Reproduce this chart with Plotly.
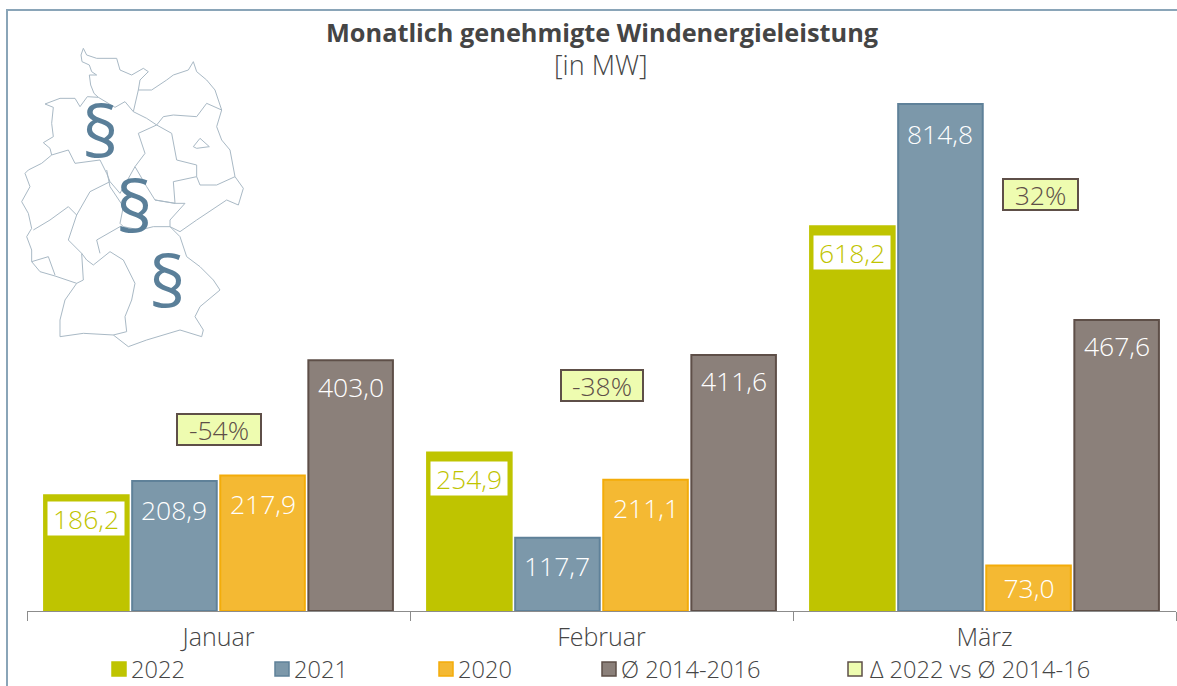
import plotly.graph_objects as go

W, H = 1177, 686
ML, MR, MT, MB = 27, 1, 51, 75

months = ["Januar", "Februar", "März"]
series_names = ["2022", "2021", "2020", "Ø 2014-2016"]
v2022 = [186.2, 254.9, 618.2]
v2021 = [208.9, 117.7, 814.8]
v2020 = [217.9, 211.1, 73.0]
vavg = [403.0, 411.6, 467.6]
delta_labels = ["-54%", "-38%", "32%"]
delta_heights = [291, 362, 669]
legend_delta = "Δ 2022 vs Ø 2014-16"

fills = ["#bfc400", "#7c98aa", "#f4b933", "#8b807a"]
borders = ["#bfc400", "#5f8199", "#f3ac0a", "#5e4f48"]
FONT = "Open Sans"
TXT = "#454545"
LIGHT = 300
SZ_LABEL = 26.5
SZ_TICK = 25
SZ_LEG = 23.6

def fmt(v):
    return f"{v:.1f}".replace(".", ",")

def px(x):
    return (x - ML) / (W - ML - MR)

def py(y):
    return 1 - (y - MT) / (H - MT - MB)

fig = go.Figure()
all_vals = [v2022, v2021, v2020, vavg]
for name, vals, f, b in zip(series_names, all_vals, fills, borders):
    fig.add_trace(go.Bar(name=name, x=months, y=vals, marker=dict(color=f, line=dict(color=b, width=2)),
                         showlegend=False, hoverinfo="skip"))

annotations = []
shapes = []
pitch = 88.3
offs = [-1.5, -0.5, 0.5, 1.5]
label_drop = [[23, 28, 28, 26], [26, 28, 28, 26], [26, 29, 22, 25]]
for si, vals in enumerate(all_vals):
    for mi, v in enumerate(vals):
        first = si == 0
        annotations.append(dict(x=months[mi], y=v, xref="x", yref="y", text=fmt(v), showarrow=False,
                                xshift=offs[si] * pitch, yshift=-label_drop[mi][si], width=76, height=33,
                                align="center", valign="middle",
                                font=dict(family=FONT, size=SZ_LABEL, weight=LIGHT, color=fills[0] if first else "white"),
                                bgcolor="white" if first else "rgba(0,0,0,0)", borderpad=0))

delta_shift = [0, 0, 56]
delta_w = [82, 80, 73]
for m, t, h, s, dw in zip(months, delta_labels, delta_heights, delta_shift, delta_w):
    annotations.append(dict(x=m, y=h, xref="x", yref="y", text=t, showarrow=False, xshift=s, width=dw, height=29,
                            align="center", valign="middle",
                            font=dict(family=FONT, size=SZ_LABEL, weight=LIGHT, color="#5e4f48"), bgcolor="#eefcb0",
                            bordercolor="#5e4f48", borderwidth=2, borderpad=0))

def paper_text(x, y, text, font, xanchor="center"):
    annotations.append(dict(x=px(x), y=py(y), xref="paper", yref="paper", xanchor=xanchor, yanchor="middle",
                            showarrow=False, text=text, font=font))

paper_text(602, 32, "<b>Monatlich genehmigte Windenergieleistung</b>", dict(family=FONT, size=25.3, color=TXT))
paper_text(601, 64, "[in MW]", dict(family=FONT, size=27, weight=LIGHT, color=TXT))

legend_items = [("2022", fills[0], borders[0], 112, 129), ("2021", fills[1], borders[1], 275, 292),
                ("2020", fills[2], borders[2], 439, 456), ("Ø 2014-2016", fills[3], borders[3], 602, 619),
                (legend_delta, "#eefcb0", "#5e4f48", 848, 868)]
for t, f, b, sx, tx in legend_items:
    shapes.append(dict(type="rect", xref="paper", yref="paper", x0=px(sx), x1=px(sx + 14), y0=py(676), y1=py(662),
                       fillcolor=f, line=dict(color=b, width=1.5)))
    paper_text(tx, 669, t, dict(family=FONT, size=SZ_LEG, weight=LIGHT, color=TXT), xanchor="left")

# Frame
shapes.append(dict(type="path", xref="paper", yref="paper", line=dict(color="#8aa5b8", width=2),
                   path=f"M {px(7)} {py(690)} L {px(7)} {py(10)} L {px(1180)} {py(10)}"))

# Decorative outline of Germany, traced from a 3x zoom
outline = [
    [(250,145),(243,165),(246,185),(268,195),(275,215),(290,225),(268,225),(272,255),(282,280),(295,292),(262,290),
     (240,320),(225,295),(180,295),(135,312),(160,322),(155,370),(160,410),(130,428),(150,445),(155,465),(125,490),
     (85,510),(75,520),(90,560),(65,605),(85,640),(95,685),(80,710),(95,750),(95,785),(120,815),(165,828),(230,850),
     (195,900),(180,960),(180,1010),(250,1000),(340,1005),(385,1040),(440,1020),(540,990),(605,1010),(610,990),
     (585,950),(600,920),(660,870),(640,840),(600,800),(560,770),(540,710),(510,680),(540,695),(590,660),(680,600),
     (715,615),(730,565),(705,530),(690,450),(665,420),(650,380),(665,330),(645,270),(620,240),(590,215),(580,185),
     (565,210),(520,225),(500,240),(455,270),(415,270),(420,240),(445,215),(430,205),(395,225),(360,210),(350,175),
     (290,175),(260,165),(250,145)],
    [(295,292),(345,322),(375,305),(400,335),(415,270)],
    [(400,335),(440,355),(470,375),(490,350),(520,345),(590,350),(620,310),(665,330)],
    [(470,375),(415,400),(435,460),(405,500),(440,560),(465,600),(525,610),(520,545),(590,530),(590,495),(530,480),(515,400),(470,375)],
    [(590,530),(600,555),(650,555),(705,530)],
    [(465,600),(525,610),(555,610),(510,660),(510,680),(460,680),(420,690),(370,680),(360,670),(370,620),(330,560),(320,510)],
    [(405,500),(360,580),(330,545)],
    [(155,465),(205,450),(225,490),(300,480),(320,520),(330,545),(270,575),(230,645),(205,620),(150,660),(100,690)],
    [(230,645),(205,720),(245,760),(260,780),(280,795),(330,755),(370,780),(405,850),(395,900),(375,950),(380,995),(340,1005)],
    [(245,760),(250,840),(230,850)],
    [(360,680),(290,720),(300,760)],
    [(95,785),(145,770),(165,825)],
    [(580,440),(600,415),(628,440),(590,445),(580,440)],
]
for seg in outline:
    p = "M " + " L ".join(f"{px(a/3):.5f} {py(b/3):.5f}" for a, b in seg)
    shapes.append(dict(type="path", xref="paper", yref="paper", path=p, line=dict(color="#a9b9c5", width=1)))

for x, y in [(100, 130), (134, 205), (167, 280)]:
    paper_text(x, y, "§", dict(family=FONT, size=72, color="#5a7f99"))

fig.update_layout(
    width=W, height=H, margin=dict(l=ML, r=MR, t=MT, b=MB), autosize=False,
    barmode="group", bargap=0.08, bargroupgap=0.04,
    paper_bgcolor="white", plot_bgcolor="white",
    annotations=annotations, shapes=shapes, showlegend=False,
    font=dict(family=FONT, color=TXT),
    xaxis=dict(type="category", range=[-0.5, 2.5], tickson="boundaries", ticks="outside", ticklen=9, tickwidth=1,
               tickcolor="#8c8c8c", showline=True, linecolor="#8c8c8c", linewidth=1, showgrid=False,
               ticklabelstandoff=4, tickfont=dict(family=FONT, size=SZ_TICK, weight=LIGHT, color=TXT)),
    yaxis=dict(range=[0, 900], visible=False, showgrid=False, zeroline=False),
)
fig.write_html("out.html", config=dict(displayModeBar=False),
               post_script="document.body.style.margin='0';document.documentElement.style.overflow='hidden';")
